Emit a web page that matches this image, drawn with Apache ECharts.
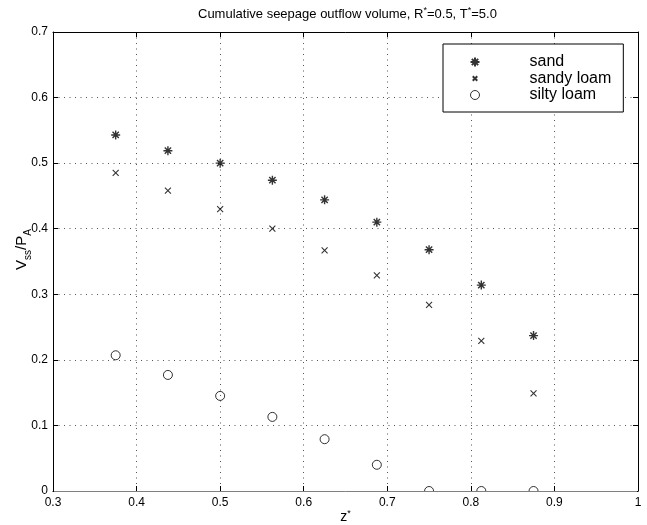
<!DOCTYPE html>
<html>
<head>
<meta charset="utf-8">
<script src="https://cdn.jsdelivr.net/npm/echarts@6/dist/echarts.min.js"></script>
<style>
html, body { margin: 0; padding: 0; background: #fff; }
#chart { width: 647px; height: 525px; }
</style>
</head>
<body>
<div id="chart"></div>
<script>
// Relative depth z* at which each profile was evaluated
const zStar = [0.375, 0.4375, 0.5, 0.5625, 0.625, 0.6875, 0.75, 0.8125, 0.875];

// Normalised cumulative seepage outflow V_ss / P_A for each soil
const sand      = [0.543, 0.519, 0.500, 0.474, 0.444, 0.410, 0.368, 0.314, 0.237];
const sandyLoam = [0.485, 0.458, 0.430, 0.400, 0.367, 0.329, 0.284, 0.229, 0.149];
const siltyLoam = [0.207, 0.177, 0.145, 0.113, 0.079, 0.040, 0.000, 0.000, 0.000];

const seriesNames = ['sand', 'sandy loam', 'silty loam'];

// Axis ranges and tick spacing
const xRange = [0.3, 1.0];
const yRange = [0, 0.7];
const tickStep = 0.1;

const FONT = '"Liberation Sans", Arial, Helvetica, sans-serif';

// Marker shapes: asterisk (plus + cross), cross, open circle
const STAR_PATH  = 'path://M5,0L5,10M0,5L10,5M1.5,1.5L8.5,8.5M1.5,8.5L8.5,1.5';
const CROSS_PATH = 'path://M0,0L10,10M0,10L10,0';
// same cross with empty margin so the legend icon stays small
const CROSS_ICON = 'path://M0,0M14,14M3.5,3.5L10.5,10.5M3.5,10.5L10.5,3.5';

const pairs = ys => zStar.map((x, i) => [x, ys[i]]);

const strokeStyle = { color: 'none', borderColor: '#000', borderWidth: 1.1 };

const dotted = { show: true, lineStyle: { color: '#555', width: 1, type: [1, 4.5] } };

const baseAxis = {
  interval: tickStep,
  nameMoveOverlap: false,
  axisLine: { show: true, onZero: false, lineStyle: { color: '#000', width: 1 } },
  axisTick: { show: true, inside: true, length: 5, lineStyle: { color: '#000' } },
  axisLabel: { color: '#000', fontFamily: FONT, fontSize: 12 },
  splitLine: { show: false }
};

const chart = echarts.init(document.getElementById('chart'), null, { renderer: 'canvas' });

const option = {
  backgroundColor: '#fff',
  animation: false,
  title: {
    text: '{n|Cumulative seepage outflow volume, R}{s|*}{n|=0.5, T}{s|*}{n|=5.0}',
    left: 198,
    top: 6,
    padding: 0,
    textStyle: {
      fontWeight: 'normal',
      rich: {
        n: { fontFamily: FONT, fontSize: 13, fontWeight: 'normal', color: '#000', lineHeight: 16 },
        s: { fontFamily: FONT, fontSize: 9, fontWeight: 'normal', color: '#000', verticalAlign: 'top', lineHeight: 9 }
      }
    }
  },
  grid: { left: 53, right: 9, top: 32, bottom: 34, containLabel: false, outerBoundsMode: 'none' },
  xAxis: [
    Object.assign({}, baseAxis, {
      type: 'value', min: xRange[0], max: xRange[1], position: 'bottom',
      axisLabel: Object.assign({}, baseAxis.axisLabel, { margin: 6 }),
      splitLine: dotted,
      name: '{n|z}{s|*}',
      nameLocation: 'middle',
      nameGap: 18,
      nameTextStyle: {
        rich: {
          n: { fontFamily: FONT, fontSize: 14, color: '#000', lineHeight: 16 },
          s: { fontFamily: FONT, fontSize: 9, color: '#000', verticalAlign: 'top', lineHeight: 9 }
        }
      }
    }),
    Object.assign({}, baseAxis, {
      type: 'value', min: xRange[0], max: xRange[1], position: 'top',
      axisLabel: { show: false }
    })
  ],
  yAxis: [
    Object.assign({}, baseAxis, {
      type: 'value', min: yRange[0], max: yRange[1], position: 'left',
      axisLabel: Object.assign({}, baseAxis.axisLabel, { margin: 5 }),
      splitLine: dotted,
      name: '{v|V}{s|ss}{v|/P}{s|A}',
      nameLocation: 'middle',
      nameGap: 20,
      nameRotate: 90,
      nameTextStyle: {
        padding: [0, 0, 0, 24],
        rich: {
          v: { fontFamily: FONT, fontSize: 15, color: '#000', lineHeight: 22, verticalAlign: 'middle' },
          s: { fontFamily: FONT, fontSize: 10, color: '#000', lineHeight: 10, verticalAlign: 'bottom' }
        }
      }
    }),
    Object.assign({}, baseAxis, {
      type: 'value', min: yRange[0], max: yRange[1], position: 'right',
      axisLabel: { show: false }
    })
  ],
  legend: {
    orient: 'vertical',
    left: 443,
    top: 44,
    padding: [10, 12, 9, 25],
    borderColor: '#000',
    borderWidth: 1,
    backgroundColor: '#fff',
    itemWidth: 9,
    itemHeight: 9,
    itemGap: 0.5,
    textStyle: {
      fontFamily: FONT, fontSize: 16, color: '#000', lineHeight: 16,
      padding: [0, 0, 0, 45]
    },
    data: [
      { name: seriesNames[0], icon: STAR_PATH },
      { name: seriesNames[1], icon: CROSS_ICON },
      { name: seriesNames[2], icon: 'circle', itemStyle: { color: 'none', borderColor: '#000', borderWidth: 1 } }
    ]
  },
  series: [
    {
      name: seriesNames[0], type: 'scatter', data: pairs(sand),
      symbol: STAR_PATH, symbolSize: 9,
      itemStyle: Object.assign({}, strokeStyle, { borderWidth: 1.4 }), z: 5
    },
    {
      name: seriesNames[1], type: 'scatter', data: pairs(sandyLoam),
      symbol: CROSS_PATH, symbolSize: 6,
      itemStyle: strokeStyle, z: 5
    },
    {
      name: seriesNames[2], type: 'scatter', data: pairs(siltyLoam),
      symbol: 'circle', symbolSize: 9,
      itemStyle: { color: 'none', borderColor: '#000', borderWidth: 1 }, z: 5
    }
  ]
};

chart.setOption(option);

// Hide the part of markers that falls below the x axis line, as in a clipped plot box.
const px0 = chart.convertToPixel({ xAxisIndex: 0 }, xRange[0]);
const px1 = chart.convertToPixel({ xAxisIndex: 0 }, xRange[1]);
const pyBottom = chart.convertToPixel({ yAxisIndex: 0 }, yRange[0]);
chart.setOption({
  graphic: [{
    type: 'rect', silent: true, z: 10,
    shape: { x: px0 + 1, y: pyBottom + 0.6, width: px1 - px0 - 2, height: 5 },
    style: { fill: '#fff' }
  }]
});
</script>
</body>
</html>
